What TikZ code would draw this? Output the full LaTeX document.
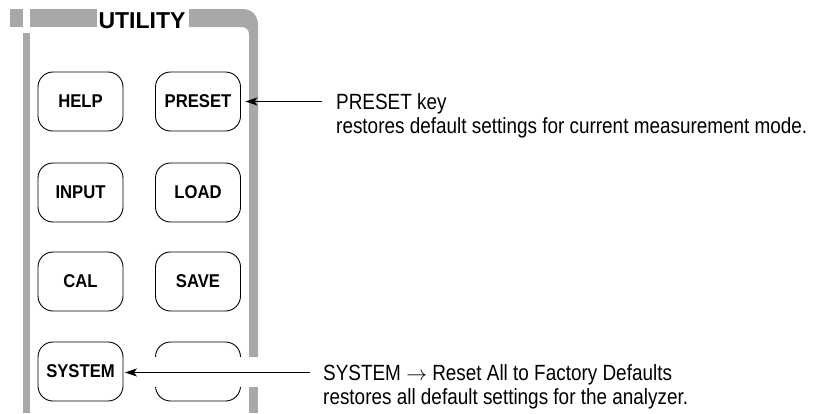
\documentclass[tikz,border=0pt]{standalone}
\usepackage{fontspec}
\setmainfont{Liberation Sans}
\newfontfamily\btnfont{Liberation Sans}[FakeStretch=0.9]
\newfontfamily\annfont{Liberation Sans}[FakeStretch=0.86]
\usetikzlibrary{arrows.meta}
\definecolor{framegray}{RGB}{168,168,168}
\begin{document}
\begin{tikzpicture}[x=1pt,y=-1pt,
  key/.style={draw=black, line width=0.9pt, rounded corners=15pt, minimum width=85pt, minimum height=59pt, inner sep=0pt, font=\btnfont\bfseries\fontsize{18.5}{18.5}\selectfont},
  ann/.style={anchor=base west, inner sep=0pt, font=\annfont\fontsize{22}{24}\selectfont},
  pointer/.style={line width=1.1pt, -{Stealth[length=12pt,width=8pt,inset=3pt]}},
  frame/.style={fill=framegray}
]
\useasboundingbox (0,0) rectangle (818,413);
% gray frame
\fill[frame] (10,9) rectangle (23,27);
\fill[frame] (30,9) rectangle (97,27);
\fill[frame] (23,33) rectangle (30,413);
\fill[frame] (189,9) -- (243,9) .. controls (251.28,9) and (258,15.72) .. (258,24) -- (258,357) -- (249,357) -- (249,34) .. controls (249,30.13) and (245.87,27) .. (242,27) -- (189,27) -- cycle;
\fill[frame] (249,387) rectangle (258,413);
\node[anchor=base, inner sep=0pt, font=\bfseries\fontsize{23}{23}\selectfont] (title) at (142,28.5) {UTILITY};
% keys
\node[key] (help) at (80.5,101.5) {HELP};
\node[key] (preset) at (198,101.5) {PRESET};
\node[key] (input) at (80.5,192.5) {INPUT};
\node[key] (load) at (198,192.5) {LOAD};
\node[key] (cal) at (80.5,281.5) {CAL};
\node[key] (save) at (198,281.5) {SAVE};
\node[key] (system) at (80.5,371.5) {SYSTEM};
\node[key] (blank) at (198,371.5) {};
\fill[white] (150,357) rectangle (247,387);
% annotations
\node[ann] (pk1) at (336,109) {PRESET key};
\node[ann] (pk2) at (336,133) {restores default settings for current measurement mode.};
\node[ann] (sy1) at (323,380) {SYSTEM $\rightarrow$ Reset All to Factory Defaults};
\node[ann] (sy2) at (323,404) {restores all default settings for the analyzer.};
\coordinate (pa) at ([xshift=-14pt,yshift=7.5pt]pk1.base west);
\coordinate (sa) at ([xshift=-13pt,yshift=7.5pt]sy1.base west);
\draw[pointer, shorten >=4.5pt] (pa) -- (pa -| preset.east);
\draw[pointer, shorten >=1.5pt] (sa) -- (sa -| system.east);
\end{tikzpicture}
\end{document}
